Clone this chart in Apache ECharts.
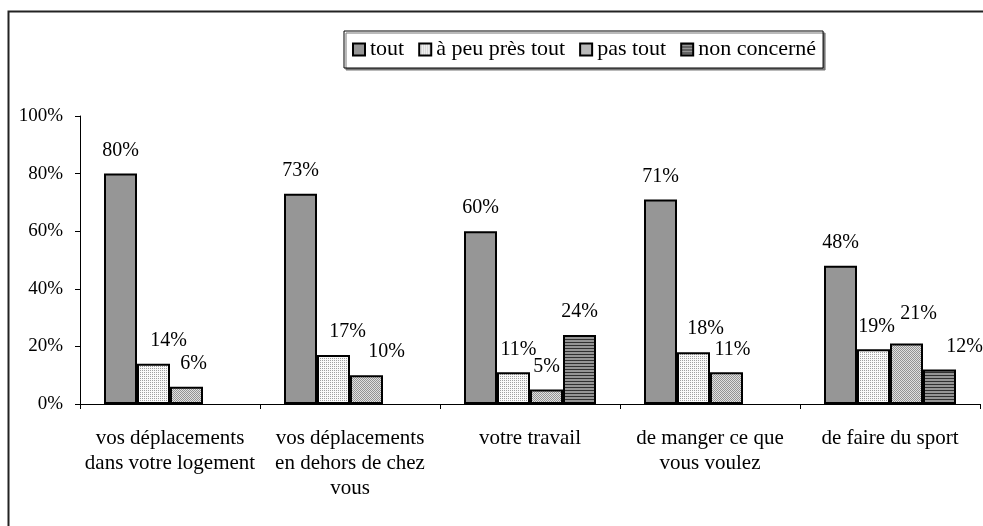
<!DOCTYPE html>
<html>
<head>
<meta charset="utf-8">
<script src="https://cdn.jsdelivr.net/npm/echarts@6/dist/echarts.min.js"></script>
<style>
html, body { margin: 0; padding: 0; background: #fff; }
#chart { width: 983px; height: 526px; }
</style>
</head>
<body>
<div id="chart"></div>
<script>
// categories and values (%)
var categories = [
    'vos déplacements\ndans votre logement',
    'vos déplacements\nen dehors de chez\nvous',
    'votre travail',
    'de manger ce que\nvous voulez',
    'de faire du sport'
];
var seriesNames = ['tout', 'à peu près tout', 'pas tout', 'non concerné'];
var tout = [80, 73, 60, 71, 48];
var aPeuPres = [14, 17, 11, 18, 19];
var pasTout = [6, 10, 5, 11, 21];
var nonConcerne = [null, null, 24, null, 12];

// shift of some value labels [dx, dy] (Excel pushed them apart)
var shiftAPeuPres = [[15, 0], [14, 0], [5, 0], [12, 0], [3, 0]];
var shiftPasTout = [[7, 0], [20, 0], [0, 0], [6, 0], [12, -7]];
var shiftNonConcerne = [[0, 0], [0, 0], [0, 0], [0, 0], [25, 0]];

var serif = '"Liberation Serif", "Times New Roman", serif';

function pattern(w, h, draw) {
    var c = document.createElement('canvas');
    c.width = w;
    c.height = h;
    var ctx = c.getContext('2d');
    draw(ctx);
    return { image: c, repeat: 'repeat' };
}

var lightDots = pattern(2, 2, function (ctx) {
    ctx.fillStyle = '#fafafa';
    ctx.fillRect(0, 0, 2, 2);
    ctx.fillStyle = '#a0a0a0';
    ctx.fillRect(0, 0, 1, 1);
});
var denseDots = pattern(2, 2, function (ctx) {
    ctx.fillStyle = '#e0e0e0';
    ctx.fillRect(0, 0, 2, 2);
    ctx.fillStyle = '#939393';
    ctx.fillRect(0, 0, 1, 1);
    ctx.fillRect(1, 1, 1, 1);
});
var stripes = pattern(2, 3, function (ctx) {
    ctx.fillStyle = '#959595';
    ctx.fillRect(0, 0, 2, 3);
    ctx.fillStyle = '#303030';
    ctx.fillRect(0, 0, 2, 1);
});

function withShift(values, shifts) {
    return values.map(function (v, i) {
        return { value: v, label: { offset: shifts ? shifts[i] : [0, 0] } };
    });
}

function barSeries(name, data, fill) {
    return {
        name: name,
        type: 'bar',
        barWidth: 33,
        barGap: '0%',
        data: data,
        itemStyle: {
            color: fill,
            borderColor: '#000',
            borderWidth: 2
        },
        label: {
            show: true,
            position: 'top',
            distance: 13,
            formatter: '{c}%',
            color: '#000',
            fontFamily: serif,
            fontSize: 20
        },
        silent: true
    };
}

var myChart = echarts.init(document.getElementById('chart'));

var option = {
    animation: false,
    backgroundColor: '#fff',
    textStyle: { fontFamily: serif },
    graphic: [{
        type: 'rect',
        shape: { x: 8.5, y: 11.5, width: 1000, height: 600 },
        style: { fill: 'none', stroke: '#222', lineWidth: 2 }
    }],
    legend: {
        left: 344,
        top: 31,
        padding: [6, 7, 6, 8],
        itemWidth: 12,
        itemHeight: 12,
        itemGap: 14,
        icon: 'rect',
        borderColor: '#000',
        borderWidth: 1,
        backgroundColor: '#fff',
        shadowColor: '#777',
        shadowOffsetX: 2,
        shadowOffsetY: 2,
        textStyle: {
            color: '#000',
            fontFamily: serif,
            fontSize: 22,
            lineHeight: 25
        },
        data: seriesNames
    },
    grid: {
        left: 80,
        right: 3,
        top: 116,
        bottom: 122,
        containLabel: false
    },
    xAxis: {
        type: 'category',
        data: categories,
        axisLine: { lineStyle: { color: '#000', width: 1 } },
        axisTick: { show: true, length: 5, lineStyle: { color: '#000' } },
        axisLabel: {
            color: '#000',
            fontFamily: serif,
            fontSize: 21,
            lineHeight: 25,
            margin: 22,
            interval: 0
        }
    },
    yAxis: {
        type: 'value',
        min: 0,
        max: 100,
        interval: 20,
        axisLine: { show: true, lineStyle: { color: '#000', width: 1 } },
        axisTick: { show: true, length: 5, lineStyle: { color: '#000' } },
        splitLine: { show: false },
        axisLabel: {
            formatter: '{value}%',
            color: '#000',
            fontFamily: serif,
            fontSize: 19,
            margin: 17
        }
    },
    series: [
        barSeries(seriesNames[0], withShift(tout, null), '#969696'),
        barSeries(seriesNames[1], withShift(aPeuPres, shiftAPeuPres), lightDots),
        barSeries(seriesNames[2], withShift(pasTout, shiftPasTout), denseDots),
        barSeries(seriesNames[3], withShift(nonConcerne, shiftNonConcerne), stripes)
    ]
};

myChart.setOption(option);
</script>
</body>
</html>
